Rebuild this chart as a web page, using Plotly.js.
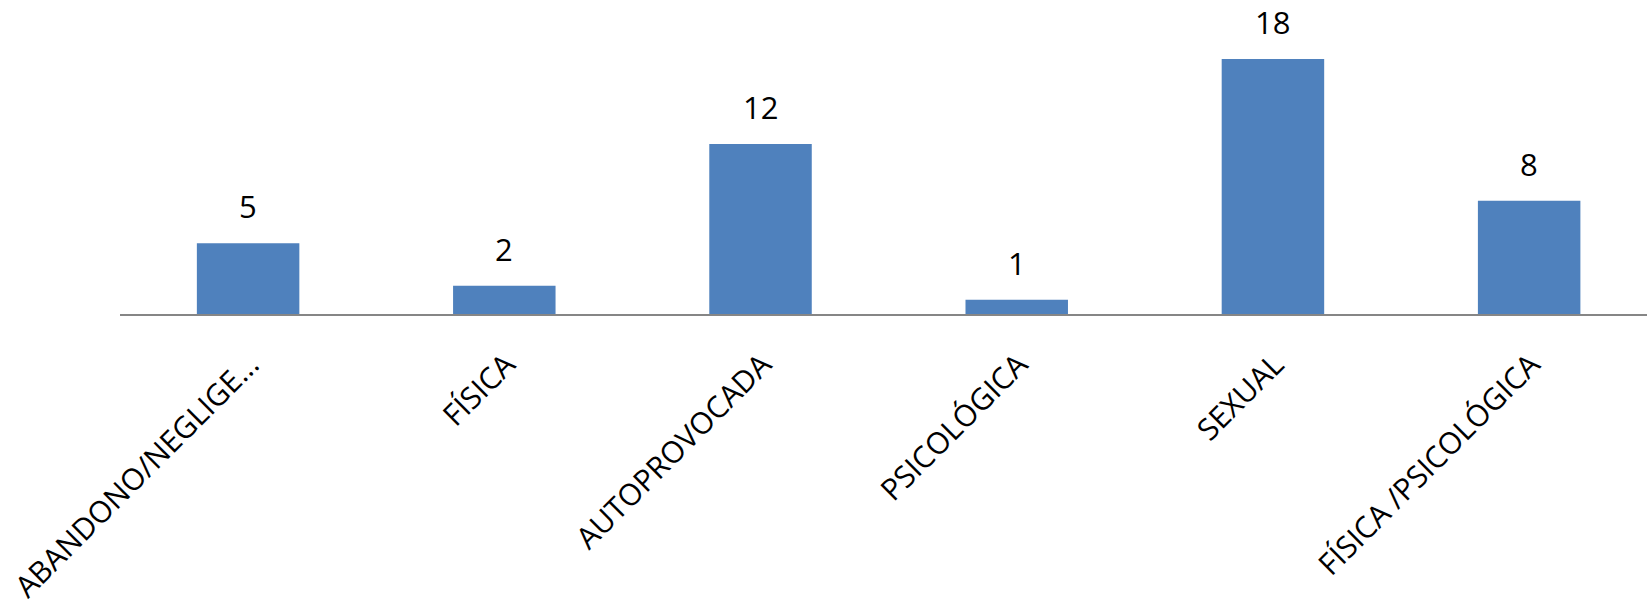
<!DOCTYPE html>
<html><head><meta charset="utf-8">
<script src="https://cdn.plot.ly/plotly-3.0.1.min.js"></script>
<style>html,body{margin:0;padding:0;background:#fff}#chart{width:1647px;height:606px}</style>
</head><body><div id="chart"></div>
<script>
const categories = ["ABANDONO/NEGLIGE...", "FÍSICA", "AUTOPROVOCADA", "PSICOLÓGICA", "SEXUAL", "FÍSICA /PSICOLÓGICA"];
const values = [5, 2, 12, 1, 18, 8];
const barColor = "#4F81BD";
const fontFamily = "'Open Sans', 'Noto Sans', sans-serif";

const trace = {
  type: "bar",
  x: categories,
  y: values,
  marker: {color: barColor},
  hoverinfo: "none"
};

const annotations = categories.map((c, i) => ({
  x: c, y: values[i], xref: "x", yref: "y",
  text: String(values[i]), showarrow: false,
  yanchor: "bottom", yshift: 14,
  font: {family: fontFamily, size: 31, color: "#000"}
}));

const layout = {
  width: 1647, height: 606,
  margin: {l: 120, r: 0, t: 20, b: 292},
  paper_bgcolor: "#fff", plot_bgcolor: "#fff",
  bargap: 0.6,
  showlegend: false,
  xaxis: {
    type: "category",
    range: [-0.5, 5.46],
    tickangle: -45,
    showline: true, linecolor: "#868686", linewidth: 2,
    showgrid: false, zeroline: false,
    ticks: "outside", ticklen: 19, tickcolor: "rgba(0,0,0,0)",
    ticklabelshift: 2,
    tickfont: {family: fontFamily, size: 30, color: "#000"}
  },
  yaxis: {
    range: [0, 20.75], visible: false, showgrid: false, zeroline: false
  },
  annotations: annotations
};

Plotly.newPlot("chart", [trace], layout, {staticPlot: true, displayModeBar: false});
</script></body></html>
